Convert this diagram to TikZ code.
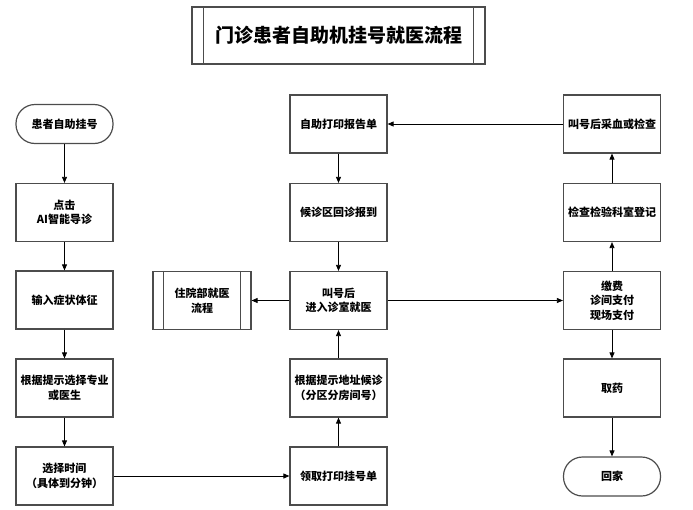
\documentclass[tikz,border=0pt]{standalone}
\usepackage{fontspec}
\setmainfont{Noto Sans CJK SC}
\usetikzlibrary{arrows.meta}

\begin{document}
\begin{tikzpicture}[x=1pt, y=-1pt, >={Triangle[length=6pt,width=5pt]},
		main_node/.style={rectangle, draw=black!70, line width=1.2pt, minimum width=97pt, minimum height=58pt, inner sep=1pt, align=center, font=\bfseries\fontsize{11}{14.5}\selectfont},
		end_node/.style={main_node, minimum height=39pt, rounded corners=19pt},
		flow/.style={->, black, line width=0.8pt}]
				\useasboundingbox (0,0) rectangle (693,509);
				\node[main_node, minimum width=293pt, minimum height=57pt, font=\bfseries\fontsize{19}{24}\selectfont](0) at (338.5,35.5){门诊患者自助机挂号就医流程};
				\draw[black!70, line width=1.2pt]([xshift=12pt]0.north west) -- ([xshift=12pt]0.south west);
				\draw[black!70, line width=1.2pt]([xshift=-12pt]0.north east) -- ([xshift=-12pt]0.south east);
				% left column
				\node[end_node](1) at (64.5,124){患者自助挂号};
				\node[main_node](2) at (64.5,212.5){点击\\AI智能导诊};
				\node[main_node](3) at (64.5,300){输入症状体征};
				\node[main_node](4) at (64.5,388){根据提示选择专业\\或医生};
				\node[main_node](5) at (64.5,476){选择时间\\（具体到分钟）};
				% middle column
				\node[main_node](6) at (338.5,124){自助打印报告单};
				\node[main_node](7) at (338.5,212.5){候诊区回诊报到};
				\node[main_node](8) at (338.5,300.5){叫号后\\进入诊室就医};
				\node[main_node](9) at (338.5,388){根据提示地址候诊\\（分区分房间号）};
				\node[main_node](10) at (338.5,476){领取打印挂号单};
				\node[main_node, minimum width=98pt](11) at (202,300.5){住院部就医\\流程};
				\draw[black!70, line width=1.2pt]([xshift=11pt]11.north west) -- ([xshift=11pt]11.south west);
				\draw[black!70, line width=1.2pt]([xshift=-11pt]11.north east) -- ([xshift=-11pt]11.south east);
				% right column
				\node[main_node](12) at (612,124){叫号后采血或检查};
				\node[main_node](13) at (612,212.5){检查检验科室登记};
				\node[main_node](14) at (612,300.5){缴费\\诊间支付\\现场支付};
				\node[main_node](15) at (612,388){取药};
				\node[end_node](16) at (612,476.5){回家};
				% arrows
				\draw[flow](1) -- (2);
				\draw[flow](2) -- (3);
				\draw[flow](3) -- (4);
				\draw[flow](4) -- (5);
				\draw[flow](5) -- (10);
				\draw[flow](10) -- (9);
				\draw[flow](9) -- (8);
				\draw[flow](8) -- (11);
				\draw[flow](8) -- (14);
				\draw[flow](14) -- (13);
				\draw[flow](13) -- (12);
				\draw[flow](12) -- (6);
				\draw[flow](6) -- (7);
				\draw[flow](7) -- (8);
				\draw[flow](14) -- (15);
				\draw[flow](15) -- (16);
			\end{tikzpicture}
\end{document}
